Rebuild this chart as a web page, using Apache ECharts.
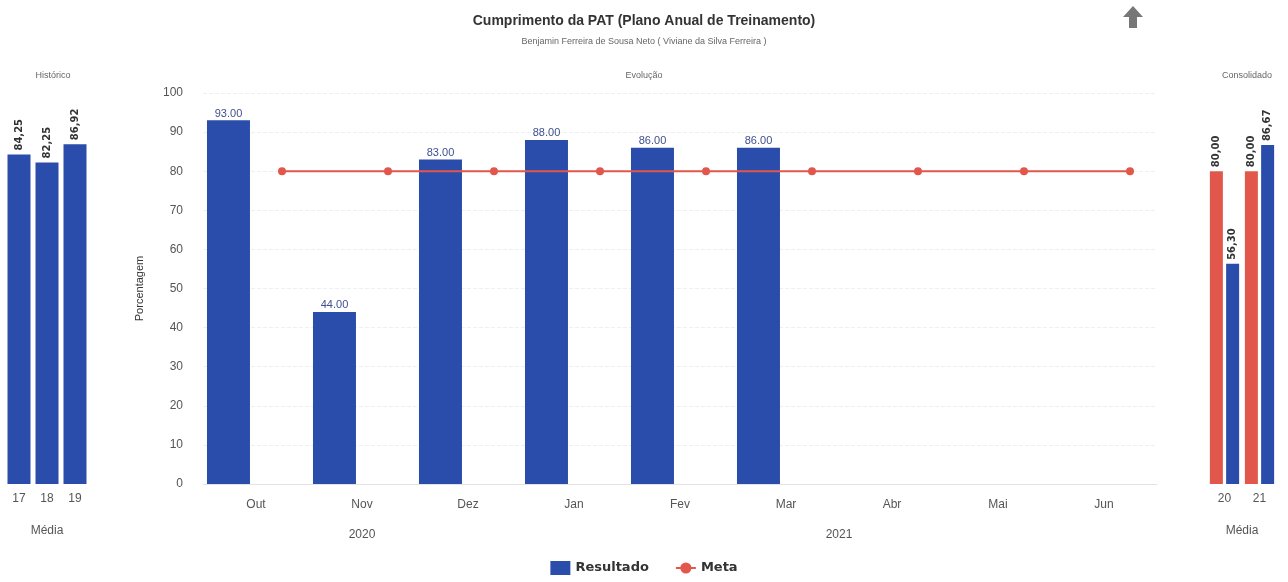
<!DOCTYPE html>
<html>
<head>
<meta charset="utf-8">
<title>Cumprimento da PAT</title>
<script src="https://cdn.jsdelivr.net/npm/echarts@6/dist/echarts.min.js"></script>
<style>
  html, body { margin: 0; padding: 0; background: #fff; }
  #chart { width: 1288px; height: 582px; }
</style>
</head>
<body>
<div id="chart"></div>
<script>
// dados do gráfico
const months = ['Out', 'Nov', 'Dez', 'Jan', 'Fev', 'Mar', 'Abr', 'Mai', 'Jun'];
const years = ['2020', '2021'];
const yearMonthCount = [3, 6];
const resultado = [93, 44, 83, 88, 86, 86, null, null, null];
const meta = [80, 80, 80, 80, 80, 80, 80, 80, 80];

const histCats = ['17', '18', '19'];
const histResultado = [84.25, 82.25, 86.92];

const consCats = ['20', '21'];
const consMeta = [80.00, 80.00];
const consResultado = [56.30, 86.67];

const yTicks = [0, 100, 10]; // min, max, intervalo

const BLUE = '#2a4dab';
const RED = '#e2574c';
const FONT = '"Liberation Sans", Arial, sans-serif';

// posição central de cada ano no eixo de meses
let acc = 0;
const yearCenters = yearMonthCount.map(function (n) {
  const c = acc + n / 2;
  acc += n;
  return c;
});

const chart = echarts.init(document.getElementById('chart'));

// rótulo rotacionado dos painéis laterais
const sideLabel = {
  show: true,
  position: 'top',
  rotate: 90,
  align: 'left',
  verticalAlign: 'middle',
  distance: 4,
  fontFamily: '"DejaVu Sans", sans-serif',
  fontWeight: 'bold',
  fontSize: 10,
  color: '#333',
  formatter: function (p) {
    return p.value.toFixed(2).replace('.', ',');
  }
};

const option = {
  animation: false,
  textStyle: { fontFamily: FONT },
  title: [
    {
      text: 'Cumprimento da PAT (Plano Anual de Treinamento)',
      subtext: 'Benjamin Ferreira de Sousa Neto ( Viviane da Silva Ferreira )',
      left: 'center',
      top: 9,
      itemGap: 9,
      textStyle: { fontSize: 14, fontWeight: 'bold', color: '#333', fontFamily: FONT },
      subtextStyle: { fontSize: 9, color: '#666', fontFamily: FONT }
    },
    { text: 'Evolução', left: 'center', top: 66, textStyle: { fontSize: 9, color: '#666', fontWeight: 'normal' } },
    { text: 'Histórico', left: 48, top: 66, textAlign: 'center', textStyle: { fontSize: 9, color: '#666', fontWeight: 'normal' } },
    { text: 'Consolidado', left: 1242, top: 66, textAlign: 'center', textStyle: { fontSize: 9, color: '#666', fontWeight: 'normal' } }
  ],
  legend: {
    bottom: 2,
    left: 'center',
    itemWidth: 20,
    itemHeight: 14,
    itemGap: 26,
    textStyle: { fontSize: 13, fontWeight: 'bold', color: '#333', fontFamily: '"DejaVu Sans", sans-serif' },
    data: [{ name: 'Resultado', icon: 'rect' }, { name: 'Meta' }]
  },
  graphic: [{
    type: 'polygon',
    left: 1123,
    top: 6,
    shape: { points: [[10, 0], [20, 11], [14, 11], [14, 22], [6, 22], [6, 11], [0, 11]] },
    style: { fill: '#777' }
  }],
  grid: [
    { left: 203, right: 131, top: 93, bottom: 98 },   // evolução
    { left: 229, right: 105, top: 93, bottom: 98 },   // meta (deslocada)
    { left: 5, right: 1199, top: 93, bottom: 98 },    // histórico
    { left: 1207, right: 11, top: 93, bottom: 98 }    // consolidado
  ],
  xAxis: [
    {
      type: 'category', gridIndex: 0, data: months,
      axisLine: { lineStyle: { color: '#e3e3e3' } },
      axisTick: { show: false },
      axisLabel: { color: '#555', fontSize: 12, margin: 15 }
    },
    { type: 'category', gridIndex: 1, data: months, show: false },
    {
      type: 'value', gridIndex: 0, min: 0, max: months.length,
      position: 'bottom', offset: 30,
      axisLine: { show: false }, axisTick: { show: false }, splitLine: { show: false },
      axisLabel: {
        color: '#555', fontSize: 12, margin: 15,
        customValues: yearCenters,
        formatter: function (v) {
          const i = yearCenters.indexOf(v);
          return i >= 0 ? years[i] : '';
        }
      }
    },
    {
      type: 'category', gridIndex: 2, data: histCats,
      axisLine: { show: false }, axisTick: { show: false },
      axisLabel: { color: '#555', fontSize: 12, margin: 9 },
      name: 'Média', nameLocation: 'middle', nameGap: 41,
      nameTextStyle: { color: '#555', fontSize: 12 }
    },
    {
      type: 'category', gridIndex: 3, data: consCats,
      axisLine: { show: false }, axisTick: { show: false },
      axisLabel: { color: '#555', fontSize: 12, margin: 9 },
      name: 'Média', nameLocation: 'middle', nameGap: 41,
      nameTextStyle: { color: '#555', fontSize: 12 }
    }
  ],
  yAxis: [
    {
      type: 'value', gridIndex: 0, min: yTicks[0], max: yTicks[1], interval: yTicks[2],
      axisLine: { show: false }, axisTick: { show: false },
      axisLabel: { color: '#555', fontSize: 12, margin: 20 },
      splitLine: { lineStyle: { color: '#efefef', type: 'dashed' } },
      name: 'Porcentagem', nameLocation: 'middle', nameGap: 58, nameRotate: 90,
      nameTextStyle: { color: '#333', fontSize: 11 }
    },
    { type: 'value', gridIndex: 1, min: yTicks[0], max: yTicks[1], show: false },
    { type: 'value', gridIndex: 2, min: yTicks[0], max: yTicks[1], show: false },
    { type: 'value', gridIndex: 3, min: yTicks[0], max: yTicks[1], show: false }
  ],
  series: [
    {
      name: 'Resultado', type: 'bar', xAxisIndex: 0, yAxisIndex: 0,
      data: resultado, barWidth: 43, barGap: '28%',
      itemStyle: { color: BLUE },
      label: {
        show: true, position: 'top', distance: 1,
        color: '#3f4f8f', fontSize: 11,
        formatter: function (p) { return p.value.toFixed(2); }
      }
    },
    {
      // espaço reservado ao lado da barra (coluna da meta)
      name: 'vazio', type: 'bar', xAxisIndex: 0, yAxisIndex: 0,
      data: months.map(function () { return '-'; }), barWidth: 43,
      silent: true
    },
    {
      name: 'Meta', type: 'line', xAxisIndex: 1, yAxisIndex: 1,
      data: meta, symbol: 'circle', symbolSize: 8,
      itemStyle: { color: RED }, lineStyle: { color: RED, width: 2 }
    },
    {
      name: 'Resultado', type: 'bar', xAxisIndex: 3, yAxisIndex: 2,
      data: histResultado, barWidth: 23,
      itemStyle: { color: BLUE }, label: sideLabel
    },
    {
      name: 'Meta', type: 'bar', xAxisIndex: 4, yAxisIndex: 3,
      data: consMeta, barWidth: 13, barGap: '25%',
      itemStyle: { color: RED }, label: sideLabel
    },
    {
      name: 'Resultado', type: 'bar', xAxisIndex: 4, yAxisIndex: 3,
      data: consResultado, barWidth: 13, barGap: '25%',
      itemStyle: { color: BLUE }, label: sideLabel
    }
  ]
};

chart.setOption(option);
</script>
</body>
</html>
